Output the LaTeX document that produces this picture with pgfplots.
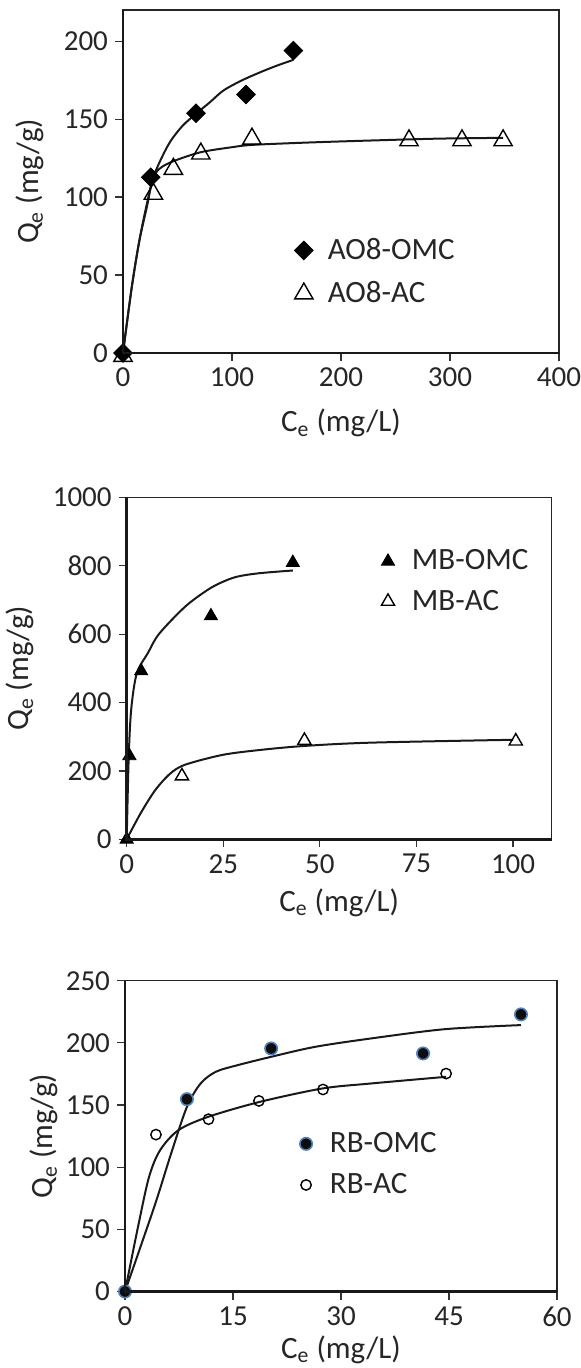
\documentclass[border=0pt]{standalone}
\usepackage{fontspec}
\setmainfont{Carlito}
\usepackage{pgfplots}
\pgfplotsset{compat=1.18}
\definecolor{rbblue}{HTML}{4F81BD}
\definecolor{rbfill}{HTML}{0D0D0D}

\pgfplotsset{
  panel/.style={
    scale only axis, anchor=south west, clip=false,
    axis line style={line width=0.6pt, black!85},
    tick align=outside, xtick pos=bottom, ytick pos=left,
    major tick length=4pt,
    tick style={line width=0.6pt, black!80},
    /pgf/number format/assume math mode=true,
    /pgf/number format/1000 sep={},
    ticklabel style={font=\fontsize{14.5}{16}\selectfont, text=black!85},
    label style={font=\fontsize{15.5}{17}\selectfont, text=black!85},
    xlabel={C\textsubscript{e} (mg/L)},
    ylabel={Q\textsubscript{e} (mg/g)},
    legend cell align=left,
    legend image code/.code={\draw[##1] plot coordinates {(0.2cm,0cm)}; \path[draw=none,fill=none] (0cm,0cm) -- (0.55cm,0cm);},
    legend style={draw=none, fill=none, anchor=west, font=\fontsize{15.5}{17}\selectfont, text=black!85},
    after end axis/.code={\draw[line width=1.3pt,black!90] (rel axis cs:0,1) -- (rel axis cs:0,0) -- (rel axis cs:1,0);},
  },
  fit/.style={black!90, line width=1pt, smooth, tension=0.5, no marks, forget plot},
}

\begin{document}
\begin{tikzpicture}
\useasboundingbox (0,0) rectangle (290.5pt,-684pt);

% ---------- Panel 1 ----------
\begin{axis}[panel,
  at={(61.5pt,-176.5pt)}, width=218pt, height=171.5pt,
  xmin=0, xmax=400, ymin=0, ymax=220,
  xtick={0,100,200,300,400}, ytick={0,50,100,150,200},
  xlabel style={at={(axis description cs:0.5,-0.205)}, anchor=center},
  ylabel style={at={(axis description cs:-0.2133,0.5)}, anchor=center},
  legend style={at={(0.374,0.236)}, row sep=5.5pt},
]
\addplot[fit] coordinates {(0,0)(8,42)(15,72)(22,96)(28,113)(36,126)(44,136.3)(55,146)(67,153.4)(80,161)(92,168.3)(108,174.5)(126,180.1)(140,184)(150,186.5)(156.3,188)};
\addplot[fit] coordinates {(0,0)(8,42)(15,72)(22,94)(26,108)(30,115.5)(36,119.5)(47.6,123.4)(71.4,128.8)(100,132)(119,133.5)(170,135)(228,136.3)(290,137.5)(348.7,138)};
\addplot[only marks, mark=square*, mark size=3.3pt, mark options={rotate=45, fill=black, draw=black}] coordinates {(0,0)(25.5,112.7)(67,153.8)(112.8,165.8)(156.3,194)};
\addlegendentry{AO8-OMC}
\addplot[only marks, mark=triangle, mark size=5.3pt, mark options={draw=black, line width=0.7pt}] coordinates {(0,-2)(27.9,102)(46.2,118)(71.4,127.8)(118.3,137.4)(262.4,136.3)(311,136.3)(348.7,136.3)};
\addlegendentry{AO8-AC}
\end{axis}

% ---------- Panel 2 ----------
\begin{axis}[panel,
  at={(63.35pt,-419.65pt)}, width=212.5pt, height=171pt,
  xmin=0, xmax=110, ymin=0, ymax=1000,
  xtick={0,25,50,75,100}, ytick={0,200,400,600,800,1000},
  xlabel style={at={(axis description cs:0.5,-0.186)}, anchor=center},
  ylabel style={at={(axis description cs:-0.251,0.5)}, anchor=center},
  legend style={at={(0.573,0.754)}, row sep=4.5pt},
]
\addplot[fit] coordinates {(0,0)(0.5,232)(1.15,378)(2.6,485)(5.5,545)(8.4,601)(15.1,680)(20.9,729)(24.7,752)(28.6,768)(34.3,778)(43,786)};
\addplot[fit] coordinates {(0,0)(3.6,76)(7.4,144)(11.25,192)(15.1,218)(24.7,246.6)(34.3,261)(46,273)(63.2,282.6)(100,291)};
\addplot[only marks, mark=triangle*, mark size=3.8pt, mark options={fill=black, draw=black}] coordinates {(0,0)(0.7,244)(3.75,492)(21.8,653)(43,809)};
\addlegendentry{MB-OMC}
\addplot[only marks, mark=triangle, mark size=3.8pt, mark options={draw=black, line width=0.7pt}] coordinates {(14.3,185)(46,289)(100.7,287)};
\addlegendentry{MB-AC}
\end{axis}

% ---------- Panel 3 ----------
\begin{axis}[panel,
  at={(62.5pt,-645.75pt)}, width=216pt, height=155.4pt,
  xmin=0, xmax=60, ymin=0, ymax=250,
  xtick={0,15,30,45,60}, ytick={0,50,100,150,200,250},
  xlabel style={at={(axis description cs:0.5,-0.186)}, anchor=center},
  ylabel style={at={(axis description cs:-0.1875,0.5)}, anchor=center},
  legend style={at={(0.378,0.409)}, row sep=5pt},
]
\addplot[fit] coordinates {(0,0)(2.3,38.4)(4.36,73.3)(6.4,110.9)(8.6,148.5)(10.5,167.3)(12.6,176.7)(15.6,182)(20.3,188.8)(26.4,196.8)(34.1,203.5)(44.4,211)(55,214.3)};
\addplot[fit] coordinates {(0,0)(1.8,51.8)(3.33,92)(4.87,113.6)(7.4,129.7)(11.5,140.4)(18.7,152.5)(27.4,163.3)(34.1,167.3)(44.6,172.7)};
\addplot[only marks, mark=*, mark size=3.1pt, mark options={fill=rbfill, draw=rbblue, line width=0.8pt}] coordinates {(0,0)(8.6,154.7)(20.3,195.5)(41.4,191.5)(55,222.9)};
\addlegendentry{RB-OMC}
\addplot[only marks, mark=o, mark size=2.6pt, mark options={draw=black, line width=0.7pt}] coordinates {(4.3,126.2)(11.6,138.6)(18.6,153.3)(27.5,162.5)(44.6,175.3)};
\addlegendentry{RB-AC}
\end{axis}
\end{tikzpicture}
\end{document}
